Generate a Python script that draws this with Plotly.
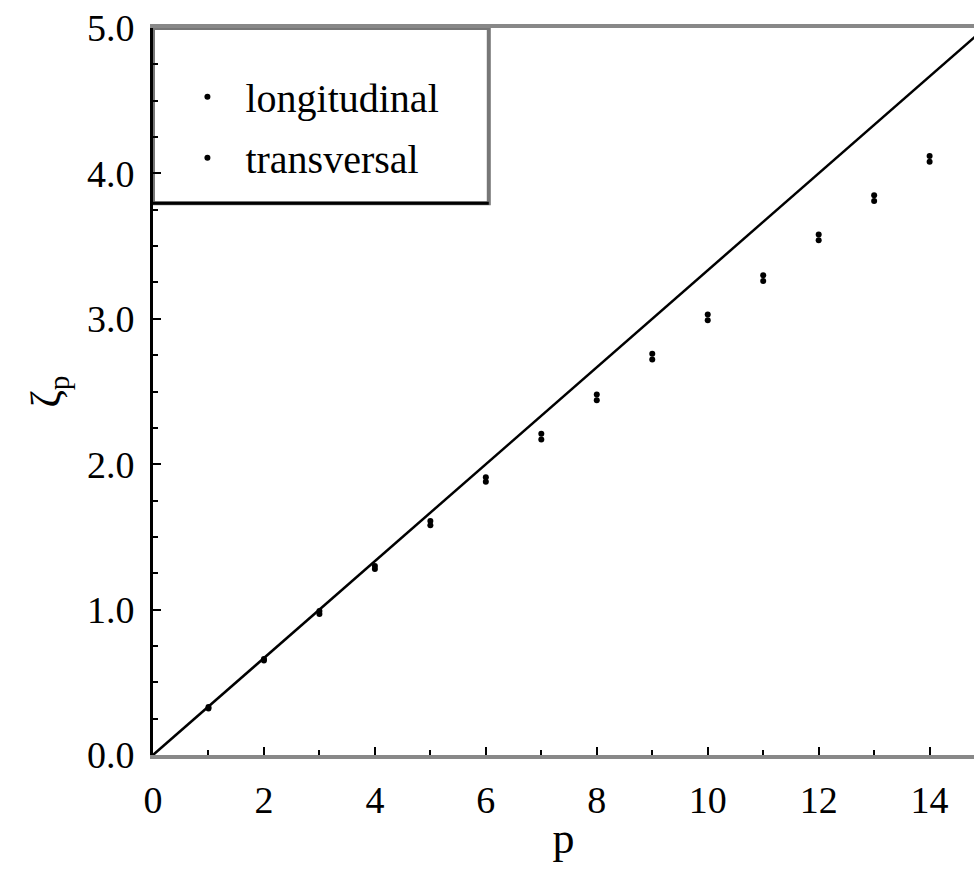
import plotly.graph_objects as go

# Scaling exponents zeta_p of the structure functions
p_values = [1, 2, 3, 4, 5, 6, 7, 8, 9, 10, 11, 12, 13, 14]
zeta_longitudinal = [0.33, 0.66, 0.99, 1.30, 1.61, 1.91, 2.21, 2.48, 2.76, 3.03, 3.30, 3.58, 3.85, 4.12]
zeta_transversal = [0.32, 0.65, 0.97, 1.28, 1.58, 1.88, 2.17, 2.44, 2.72, 2.99, 3.26, 3.54, 3.81, 4.08]

# K41 reference line zeta_p = p/3
k41_p = [0, 15]
k41_zeta = [p / 3 for p in k41_p]

x_ticks = [0, 2, 4, 6, 8, 10, 12, 14]
y_ticks = [0, 1, 2, 3, 4, 5]

FONT = "Liberation Serif"

fig = go.Figure()
fig.add_trace(go.Scatter(
    x=k41_p, y=k41_zeta, mode="lines",
    line=dict(color="black", width=2.5), showlegend=False, hoverinfo="skip",
))
fig.add_trace(go.Scatter(
    x=p_values, y=zeta_longitudinal, mode="markers", name="longitudinal",
    legendgroup="long",
    marker=dict(symbol="circle", size=6, color="black"),
))
fig.add_trace(go.Scatter(
    x=p_values, y=zeta_transversal, mode="markers", name="transversal",
    legendgroup="trans",
    marker=dict(symbol="circle", size=6, color="black"),
))

# legend frame
fig.add_shape(type="rect", xref="paper", yref="paper", x0=0, x1=0.409, y0=0.759, y1=1,
              line=dict(color="#777777", width=4), fillcolor="white", layer="below")
fig.add_shape(type="line", xref="paper", yref="paper", x0=0, x1=0.409, y0=0.759, y1=0.759,
              line=dict(color="black", width=3))

fig.update_layout(
    width=974, height=869,
    margin=dict(l=153, r=0, t=28, b=114),
    paper_bgcolor="white", plot_bgcolor="white",
    font=dict(family=FONT, color="black"),
    legend=dict(
        x=0.02, y=0.95, xanchor="left", yanchor="top",
        bgcolor="rgba(0,0,0,0)", borderwidth=0,
        font=dict(family=FONT, size=40, color="black"),
        itemwidth=66, tracegroupgap=6, traceorder="grouped",
    ),
    xaxis=dict(
        range=[0, 14.8], tickvals=x_ticks, ticktext=[str(v) for v in x_ticks],
        ticks="inside", ticklen=8, tickwidth=2, tickcolor="black",
        minor=dict(dtick=1, ticks="inside", ticklen=5, tickwidth=1.5, tickcolor="black"),
        showline=True, linecolor="#888888", linewidth=4, mirror=True,
        showgrid=False, zeroline=False,
        tickfont=dict(family=FONT, size=38), ticklabelstandoff=8,
        title=dict(text="p", font=dict(family=FONT, size=44), standoff=4),
    ),
    yaxis=dict(
        range=[0, 5], tickvals=y_ticks, ticktext=[f"{v:.1f}" for v in y_ticks],
        ticks="inside", ticklen=8, tickwidth=2, tickcolor="black",
        minor=dict(dtick=0.25, ticks="inside", ticklen=5, tickwidth=1.5, tickcolor="black"),
        showline=True, linecolor="black", linewidth=3, mirror=False,
        showgrid=False, zeroline=False,
        tickfont=dict(family=FONT, size=38), ticklabelstandoff=8,
        title=dict(text="ζ<sub>p</sub>", font=dict(family=FONT, size=42), standoff=14),
    ),
)

fig.write_html("out.html")
